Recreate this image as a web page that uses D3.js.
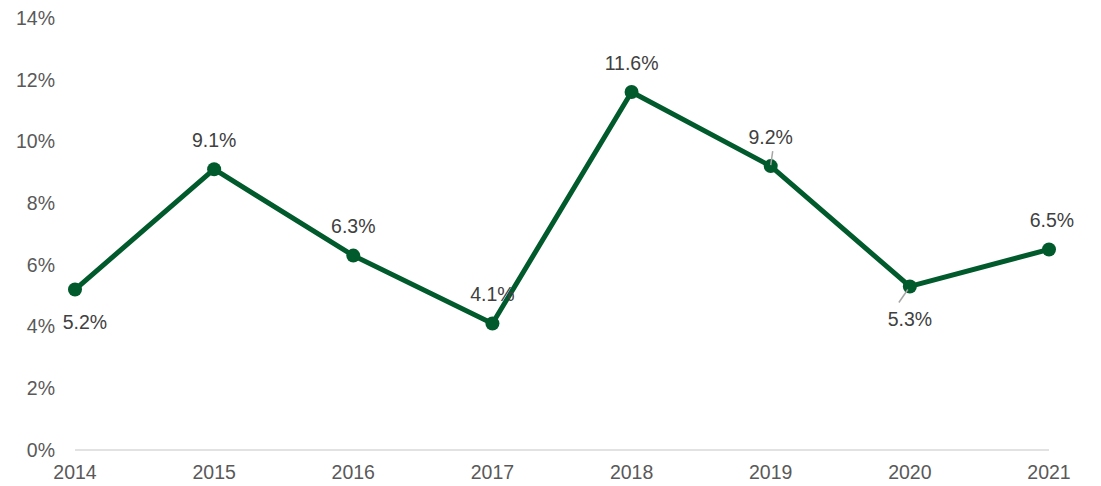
<!DOCTYPE html>
<html><head><meta charset="utf-8">
<script src="https://cdn.jsdelivr.net/npm/d3@7"></script>
<style>body{margin:0;background:#fff}svg{display:block}text{font-family:"Liberation Sans",Arial,sans-serif}</style>
</head><body>
<svg id="c" width="1101" height="486"></svg>
<script>
const years = ["2014","2015","2016","2017","2018","2019","2020","2021"];
const values = [5.2, 9.1, 6.3, 4.1, 11.6, 9.2, 5.3, 6.5];
const yTicks = [0,2,4,6,8,10,12,14];
const labelPos = ["below","above","above","above","above","above","below","above"];
const labelDx = [10,0,0,0,0,0,0,3];
const leader = [false,false,false,false,false,true,true,false];

const svg = d3.select("#c");
const x = d3.scalePoint().domain(years).range([75,1049]);
const y = d3.scaleLinear().domain([0,14]).range([450,18]);
const grey = "#595959";
const green = "#005A2B";
const fs = 19.5;

svg.append("g").selectAll("text").data(yTicks).join("text")
  .attr("x",55).attr("y",d=>y(d)).attr("dy","0.35em").attr("text-anchor","end")
  .attr("font-size",fs).attr("fill",grey).text(d=>d+"%");
svg.append("line").attr("x1",x(years[0])).attr("x2",x(years[years.length-1]))
  .attr("y1",y(0)).attr("y2",y(0)).attr("stroke","#d9d9d9").attr("stroke-width",1.5);
svg.append("g").selectAll("text").data(years).join("text")
  .attr("x",d=>x(d)).attr("y",472).attr("dy","0.35em").attr("text-anchor","middle")
  .attr("font-size",fs).attr("fill",grey).text(d=>d);

const pts = years.map((yr,i)=>({yr,v:values[i],i}));
svg.append("path").datum(pts)
  .attr("d",d3.line().x(d=>x(d.yr)).y(d=>y(d.v)))
  .attr("fill","none").attr("stroke",green).attr("stroke-width",5).attr("stroke-linejoin","round");

svg.append("g").selectAll("circle").data(pts).join("circle")
  .attr("cx",d=>x(d.yr)).attr("cy",d=>y(d.v)).attr("r",7).attr("fill",green);

svg.append("g").selectAll("line").data(pts.filter(d=>leader[d.i])).join("line")
  .attr("x1",d=>x(d.yr)+(labelPos[d.i]==="below"?-11:2))
  .attr("y1",d=>y(d.v)+(labelPos[d.i]==="below"?16:-15))
  .attr("x2",d=>x(d.yr)+(labelPos[d.i]==="below"?-2:0))
  .attr("y2",d=>y(d.v)+(labelPos[d.i]==="below"?3:-1))
  .attr("stroke","#a6a6a6").attr("stroke-width",1.5);

svg.append("g").selectAll("text").data(pts).join("text")
  .attr("x",d=>x(d.yr)+labelDx[d.i])
  .attr("y",d=>y(d.v)+(labelPos[d.i]==="below"?33:-29))
  .attr("dy","0.35em").attr("text-anchor","middle")
  .attr("font-size",fs).attr("fill","#404040").text(d=>d.v.toFixed(1)+"%");
</script>
</body></html>
